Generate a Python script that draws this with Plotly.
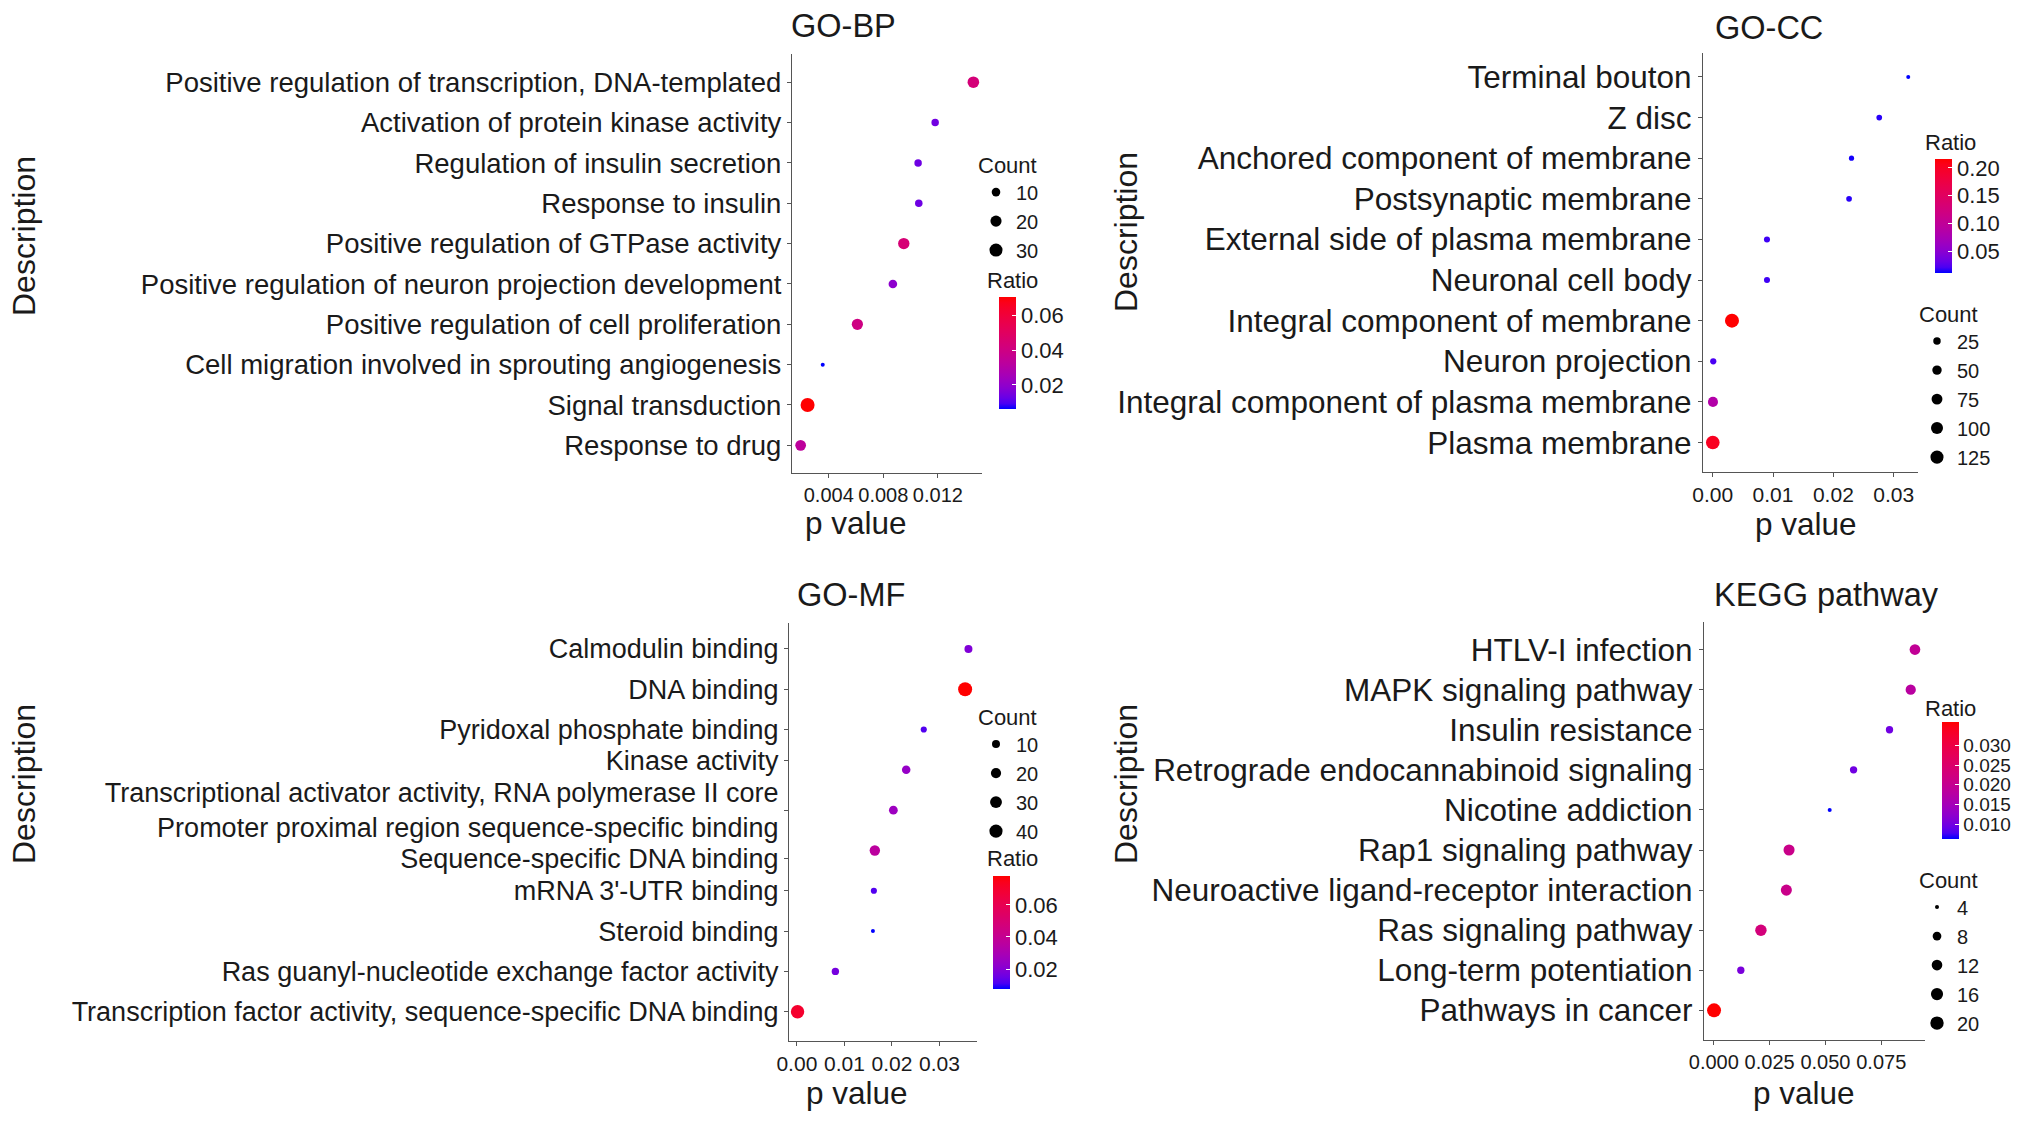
import numpy as np
import plotly.graph_objects as go

W, H = 2032, 1121
FONT = "Liberation Sans, Arial, Helvetica, sans-serif"
TXT = "#1a1a1a"
AXC = "#555555"

# ---------------- data (top -> bottom as displayed) ----------------
bp_terms = [
    "Positive regulation of transcription, DNA-templated",
    "Activation of protein kinase activity",
    "Regulation of insulin secretion",
    "Response to insulin",
    "Positive regulation of GTPase activity",
    "Positive regulation of neuron projection development",
    "Positive regulation of cell proliferation",
    "Cell migration involved in sprouting angiogenesis",
    "Signal transduction",
    "Response to drug",
]
bp_pvalue = [0.0146, 0.0118, 0.01055, 0.0106, 0.0095, 0.0087, 0.0061, 0.00356, 0.00245, 0.00194]
bp_count = [22, 7, 7, 7, 21, 10, 20, 3, 36, 18]
bp_ratio = [0.043, 0.014, 0.0135, 0.0135, 0.044, 0.019, 0.040, 0.0061, 0.0705, 0.033]
bp_xticks = [0.004, 0.008, 0.012]
bp_ratio_breaks = [0.02, 0.04, 0.06]
bp_count_breaks = [10, 20, 30]

cc_terms = [
    "Terminal bouton",
    "Z disc",
    "Anchored component of membrane",
    "Postsynaptic membrane",
    "External side of plasma membrane",
    "Neuronal cell body",
    "Integral component of membrane",
    "Neuron projection",
    "Integral component of plasma membrane",
    "Plasma membrane",
]
cc_pvalue = [0.0324, 0.0276, 0.0230, 0.0226, 0.0090, 0.0090, 0.0032, 0.0001, 0.00005, 0.00002]
cc_count = [8, 12, 10, 12, 14, 14, 150, 15, 60, 140]
cc_ratio = [0.0115, 0.017, 0.0144, 0.017, 0.020, 0.020, 0.216, 0.0216, 0.086, 0.202]
cc_xticks = [0.00, 0.01, 0.02, 0.03]
cc_ratio_breaks = [0.05, 0.10, 0.15, 0.20]
cc_count_breaks = [25, 50, 75, 100, 125]

mf_terms = [
    "Calmodulin binding",
    "DNA binding",
    "Pyridoxal phosphate binding",
    "Kinase activity",
    "Transcriptional activator activity, RNA polymerase II core<br>Promoter proximal region sequence-specific binding",
    "Sequence-specific DNA binding",
    "mRNA 3'-UTR binding",
    "Steroid binding",
    "Ras guanyl-nucleotide exchange factor activity",
    "Transcription factor activity, sequence-specific DNA binding",
]
mf_pvalue = [0.0361, 0.0354, 0.0267, 0.0230, 0.0203, 0.0164, 0.0162, 0.0160, 0.0081, 0.00014]
mf_count = [10, 47, 5, 12, 13, 21, 5, 3, 8, 42]
mf_ratio = [0.019, 0.078, 0.012, 0.024, 0.026, 0.036, 0.012, 0.0076, 0.017, 0.070]
mf_xticks = [0.00, 0.01, 0.02, 0.03]
mf_ratio_breaks = [0.02, 0.04, 0.06]
mf_count_breaks = [10, 20, 30, 40]

kegg_terms = [
    "HTLV-I infection",
    "MAPK signaling pathway",
    "Insulin resistance",
    "Retrograde endocannabinoid signaling",
    "Nicotine addiction",
    "Rap1 signaling pathway",
    "Neuroactive ligand-receptor interaction",
    "Ras signaling pathway",
    "Long-term potentiation",
    "Pathways in cancer",
]
kegg_pvalue = [0.0901, 0.0882, 0.0787, 0.0626, 0.0519, 0.0337, 0.0325, 0.0211, 0.0121, 0.0001]
kegg_count = [12, 11, 6, 6, 4, 13, 13, 14, 6, 22]
kegg_ratio = [0.0195, 0.018, 0.0098, 0.0098, 0.0062, 0.021, 0.021, 0.023, 0.0105, 0.036]
kegg_xticks = [0.000, 0.025, 0.050, 0.075]
kegg_ratio_breaks = [0.010, 0.015, 0.020, 0.025, 0.030]
kegg_count_breaks = [4, 8, 12, 16, 20]


# ---------------- colour scale: blue -> red interpolated in Lab (like ggplot) ----------------
def _srgb_to_lab(rgb):
    c = np.array(rgb, float) / 255.0
    lin = np.where(c <= 0.04045, c / 12.92, ((c + 0.055) / 1.055) ** 2.4)
    M = np.array([[0.4124, 0.3576, 0.1805], [0.2126, 0.7152, 0.0722], [0.0193, 0.1192, 0.9505]])
    xyz = M @ lin
    wp = np.array([0.95047, 1.0, 1.08883])
    t = xyz / wp
    f = np.where(t > 0.008856, np.cbrt(t), 7.787 * t + 16 / 116)
    return np.array([116 * f[1] - 16, 500 * (f[0] - f[1]), 200 * (f[1] - f[2])])


def _lab_to_srgb(lab):
    L, a, b = lab
    fy = (L + 16) / 116
    fx = fy + a / 500
    fz = fy - b / 200
    f = np.array([fx, fy, fz])
    t = np.where(f ** 3 > 0.008856, f ** 3, (f - 16 / 116) / 7.787)
    xyz = t * np.array([0.95047, 1.0, 1.08883])
    Mi = np.array([[3.2406, -1.5372, -0.4986], [-0.9689, 1.8758, 0.0415], [0.0557, -0.2040, 1.0570]])
    lin = np.clip(Mi @ xyz, 0, 1)
    c = np.where(lin <= 0.0031308, 12.92 * lin, 1.055 * lin ** (1 / 2.4) - 0.055)
    return tuple(int(round(v)) for v in np.clip(c, 0, 1) * 255)


def lab_colorscale(low, high, n=21):
    l0, l1 = _srgb_to_lab(low), _srgb_to_lab(high)
    out = []
    for t in np.linspace(0, 1, n):
        r, g, b = _lab_to_srgb(l0 + (l1 - l0) * t)
        out.append([float(t), f"rgb({r},{g},{b})"])
    return out


CSCALE = lab_colorscale((0, 0, 255), (255, 0, 0))


# ---------------- size scale (ggplot scale_size-like on the data range) ----------------
def make_size_scale(counts, dmin=4.0, dmax=14.0):
    lo, hi = float(min(counts)), float(max(counts))

    def f(v):
        v = np.asarray(v, float)
        t = np.clip((v - lo) / (hi - lo), 0, 1)
        return (dmin + (dmax - dmin) * np.sqrt(t)).tolist()

    return f


def px_x(v):
    return v / W


def px_y(v):
    return 1 - v / H


panels = [
    dict(title="GO-BP", terms=bp_terms, p=bp_pvalue, count=bp_count, ratio=bp_ratio,
         xticks=bp_xticks, xfmt=".3f", xfs=20, rbreaks=bp_ratio_breaks, rfmt=".2f", rfs=22,
         cbreaks=bp_count_breaks, label_nudge={},
         ax_x=(792, 982), ax_y=(54, 473), yfs=27.5, title_xy=(789, 26), desc_xy=(24, 236),
         pval_xy=(856, 523), leg_xy=(976, 144), cbar=(999, 297, 409), ratio_xy=(985, 280)),
    dict(title="GO-CC", terms=cc_terms, p=cc_pvalue, count=cc_count, ratio=cc_ratio,
         xticks=cc_xticks, xfmt=".2f", xfs=21, rbreaks=cc_ratio_breaks, rfmt=".2f", rfs=22,
         cbreaks=cc_count_breaks, label_nudge={},
         ax_x=(1703, 1918), ax_y=(53, 472), yfs=31.5, title_xy=(1713, 28), desc_xy=(1126, 232),
         pval_xy=(1806, 524), leg_xy=(1917, 293), cbar=(1935, 159, 273), ratio_xy=(1923, 142)),
    # in the reference the two neighbours of the wrapped MF label are pushed apart slightly
    dict(title="GO-MF", terms=mf_terms, p=mf_pvalue, count=mf_count, ratio=mf_ratio,
         xticks=mf_xticks, xfmt=".2f", xfs=21, rbreaks=mf_ratio_breaks, rfmt=".2f", rfs=22,
         cbreaks=mf_count_breaks, label_nudge={3: -0.22, 5: 0.2},
         ax_x=(789, 977), ax_y=(623, 1041), yfs=27, title_xy=(795, 595), desc_xy=(24, 784),
         pval_xy=(857, 1093), leg_xy=(976, 696), cbar=(993, 876, 989), ratio_xy=(985, 858)),
    dict(title="KEGG pathway", terms=kegg_terms, p=kegg_pvalue, count=kegg_count, ratio=kegg_ratio,
         xticks=kegg_xticks, xfmt=".3f", xfs=20, rbreaks=kegg_ratio_breaks, rfmt=".3f", rfs=19,
         cbreaks=kegg_count_breaks, label_nudge={},
         ax_x=(1704, 1925), ax_y=(622, 1040), yfs=31.5, title_xy=(1712, 595), desc_xy=(1126, 784),
         pval_xy=(1804, 1093), leg_xy=(1917, 859), cbar=(1942, 722, 839), ratio_xy=(1923, 708)),
]

fig = go.Figure()
layout = dict(
    width=W, height=H, autosize=False, margin=dict(l=0, r=0, t=0, b=0, pad=0, autoexpand=False),
    paper_bgcolor="white", plot_bgcolor="white",
    font=dict(family=FONT, color=TXT),
    showlegend=True, annotations=[],
)

for i, P in enumerate(panels, start=1):
    sfx = "" if i == 1 else str(i)
    xa, ya = f"x{sfx}", f"y{sfx}"
    leg = "legend" if i == 1 else f"legend{i}"
    size_of = make_size_scale(P["count"])

    pmin, pmax = min(P["p"]), max(P["p"])
    pad = 0.05 * (pmax - pmin)
    n = len(P["terms"])
    tickpos = [k + P["label_nudge"].get(k, 0.0) for k in range(n)]

    cb_left, cb_top, cb_bot = P["cbar"]
    fig.add_trace(go.Scatter(
        x=P["p"], y=P["terms"], mode="markers", xaxis=xa, yaxis=ya, showlegend=False,
        customdata=np.stack([P["count"], P["ratio"]], axis=1),
        hovertemplate="%{y}<br>p value=%{x}<br>Count=%{customdata[0]}<br>Ratio=%{customdata[1]}<extra></extra>",
        marker=dict(
            size=size_of(P["count"]), sizemode="diameter", color=P["ratio"],
            colorscale=CSCALE, cmin=min(P["ratio"]), cmax=max(P["ratio"]), opacity=1,
            line=dict(width=0), showscale=True,
            colorbar=dict(
                x=px_x(cb_left), xanchor="left", xref="paper",
                y=px_y((cb_top + cb_bot) / 2), yanchor="middle", yref="paper",
                len=(cb_bot - cb_top) / H, lenmode="fraction",
                thickness=17, thicknessmode="pixels", xpad=0, ypad=0,
                outlinewidth=0, tickvals=P["rbreaks"], tickformat=P["rfmt"],
                ticks="inside", ticklen=4, tickcolor="white", tickwidth=1,
                tickfont=dict(size=P["rfs"], family=FONT, color=TXT),
            ),
        ),
    ))

    for b in P["cbreaks"]:
        fig.add_trace(go.Scatter(
            x=[None], y=[None], mode="markers", xaxis=xa, yaxis=ya, name=str(b),
            legend=leg, showlegend=True, hoverinfo="skip",
            marker=dict(size=size_of([b])[0], color="black", sizemode="diameter"),
        ))

    layout[f"xaxis{sfx}"] = dict(
        domain=[px_x(P["ax_x"][0]), px_x(P["ax_x"][1])], anchor=ya, automargin=False,
        range=[pmin - pad, pmax + pad], tickvals=P["xticks"], tickformat=P["xfmt"], tickangle=0,
        ticks="outside", ticklen=4, tickcolor=AXC, tickwidth=1.2,
        showline=True, linecolor=AXC, linewidth=1.3, showgrid=False, zeroline=False,
        tickfont=dict(size=P["xfs"], family=FONT, color=TXT), fixedrange=True,
    )
    layout[f"yaxis{sfx}"] = dict(
        domain=[px_y(P["ax_y"][1]), px_y(P["ax_y"][0])], anchor=xa, automargin=False,
        type="category", categoryorder="array", categoryarray=P["terms"],
        range=[-0.6, n - 0.4], autorange="reversed",
        tickmode="array", tickvals=tickpos, ticktext=P["terms"],
        ticks="outside", ticklen=4, tickcolor=AXC, tickwidth=1.2,
        showline=True, linecolor=AXC, linewidth=1.3, showgrid=False, zeroline=False,
        tickfont=dict(size=P["yfs"], family=FONT, color=TXT), fixedrange=True,
    )
    layout[leg] = dict(
        x=px_x(P["leg_xy"][0]), y=px_y(P["leg_xy"][1]), xanchor="left", yanchor="top",
        xref="paper", yref="paper", bgcolor="rgba(0,0,0,0)", borderwidth=0,
        itemsizing="trace", itemwidth=30, tracegroupgap=0,
        font=dict(size=20, family=FONT, color=TXT),
        title=dict(text="Count", font=dict(size=22, family=FONT, color=TXT)),
    )

    tx, ty = P["title_xy"]
    layout["annotations"].append(dict(
        text=P["title"], x=px_x(tx), y=px_y(ty), xref="paper", yref="paper",
        xanchor="left", yanchor="middle", showarrow=False,
        font=dict(size=32.5, family=FONT, color=TXT)))
    dx, dy = P["desc_xy"]
    layout["annotations"].append(dict(
        text="Description", x=px_x(dx), y=px_y(dy), xref="paper", yref="paper",
        xanchor="center", yanchor="middle", textangle=-90, showarrow=False,
        font=dict(size=32, family=FONT, color=TXT)))
    vx, vy = P["pval_xy"]
    layout["annotations"].append(dict(
        text="p value", x=px_x(vx), y=px_y(vy), xref="paper", yref="paper",
        xanchor="center", yanchor="middle", showarrow=False,
        font=dict(size=31.5, family=FONT, color=TXT)))
    rx, ry = P["ratio_xy"]
    layout["annotations"].append(dict(
        text="Ratio", x=px_x(rx), y=px_y(ry), xref="paper", yref="paper",
        xanchor="left", yanchor="middle", showarrow=False,
        font=dict(size=22, family=FONT, color=TXT)))

fig.update_layout(**layout)
fig.write_html(
    "out.html",
    config={"displayModeBar": False},
    post_script="document.body.style.margin='0px';document.body.style.overflow='hidden';",
)
